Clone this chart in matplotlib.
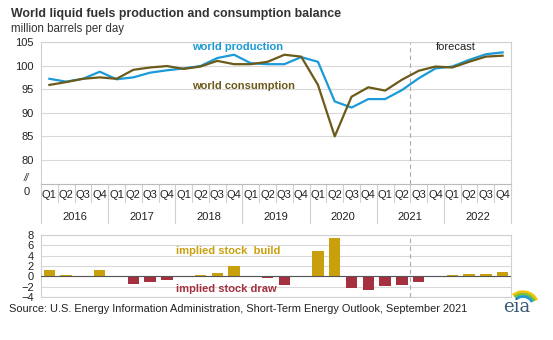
import matplotlib
matplotlib.use("Agg")
import matplotlib.pyplot as plt
from matplotlib.patches import Arc
import matplotlib.transforms as mtransforms

plt.rcParams["font.family"] = ["Liberation Sans", "DejaVu Sans"]

years = ["2016", "2017", "2018", "2019", "2020", "2021", "2022"]
quarters = ["Q1", "Q2", "Q3", "Q4"]

# world liquid fuels, million barrels per day, 2016Q1 .. 2022Q4
production = [97.2, 96.6, 97.2, 98.7, 97.1, 97.5, 98.5, 99.0,
              99.4, 99.9, 101.6, 102.3, 100.5, 100.3, 100.3, 101.8,
              100.8, 92.4, 91.1, 92.9, 92.9, 94.8, 97.3, 99.4,
              99.8, 101.2, 102.4, 102.8]
consumption = [95.9, 96.5, 97.2, 97.5, 97.2, 99.1, 99.6, 99.9,
               99.3, 99.8, 101.0, 100.3, 100.3, 100.8, 102.3, 101.9,
               95.9, 85.0, 93.4, 95.4, 94.7, 97.0, 98.9, 99.8,
               99.6, 100.8, 101.9, 102.1]
# implied stock change (build > 0, draw < 0)
stock_change = [1.3, 0.25, -0.05, 1.2, -0.1, -1.5, -1.0, -0.8,
                0.0, 0.25, 0.65, 2.05, -0.05, -0.3, -1.75, 0.05,
                4.95, 7.4, -2.25, -2.6, -1.8, -1.6, -1.1, -0.2,
                0.2, 0.45, 0.45, 0.75]
forecast_start = 22

blue = "#1a9ad6"
brown = "#6b5a1a"
gold = "#c9a00c"
red = "#a5303f"
grid = "#d9d9d9"
frame = "#d0d0d0"
ink = "#222222"
fs = 8

n = len(production)
x = list(range(n))

fig = plt.figure(figsize=(5.53, 3.40), dpi=100)
W, H = 553, 340

def box(left, top, right, bottom):
    return [left / W, 1 - bottom / H, (right - left) / W, (bottom - top) / H]

# ---- top panel: production and consumption ----
ax = fig.add_axes(box(41, 42, 511, 184))
ax.set_xlim(-0.5, n - 0.5)
ax.set_ylim(74.9, 105)
ax.set_yticks([80, 85, 90, 95, 100, 105])
ax.yaxis.grid(True, color=grid, lw=0.8)
ax.set_axisbelow(True)
ax.set_xticks([])
ax.tick_params(axis="y", length=0, labelsize=fs, pad=5, labelcolor=ink)
for s in ax.spines.values():
    s.set_color(frame)
    s.set_linewidth(0.8)
ax.spines["bottom"].set_color("#bbbbbb")

ax.plot(x, production, color=blue, lw=1.6, zorder=3)
ax.plot(x, consumption, color=brown, lw=1.6, zorder=4)
ax.axvline(forecast_start - 0.5, color="#aaaaaa", lw=0.8, ls=(0, (4, 3)))

ax.text(8.5, 103.9, "world production", color=blue, fontsize=fs,
        fontweight="bold", va="center")
ax.text(8.5, 95.6, "world consumption", color=brown, fontsize=fs,
        fontweight="bold", va="center")
ax.text(23.0, 103.9, "forecast", color=ink, fontsize=fs, va="center")

# broken axis marker and zero label
ax.text(-0.025, 6 / 142, "//", transform=ax.transAxes, ha="right", va="center",
        fontsize=7, style="italic", color=ink)
ax.text(-0.025, -8 / 142, "0", transform=ax.transAxes, ha="right", va="center",
        fontsize=fs, color=ink)

# category axis: quarters and years
trans = mtransforms.blended_transform_factory(ax.transData, ax.transAxes)
qh = 18 / 142
yh = 39 / 142
for i in range(n):
    ax.text(i, -11.5 / 142, quarters[i % 4], transform=trans, ha="center",
            va="center", fontsize=fs, color=ink)
for b in range(n + 1):
    depth = yh if b % 4 == 0 else qh
    ax.plot([b - 0.5, b - 0.5], [0, -depth], transform=trans, color=frame,
            lw=0.8, clip_on=False)
for k, yr in enumerate(years):
    ax.text(4 * k + 1.5, -33 / 142, yr, transform=trans, ha="center",
            va="center", fontsize=fs, color=ink)

# ---- bottom panel: implied stock change ----
bx = fig.add_axes(box(41, 235, 511, 297))
bx.set_xlim(-0.5, n - 0.5)
bx.set_ylim(-4, 8)
bx.set_yticks([8, 6, 4, 2, 0, -2, -4])
bx.yaxis.grid(True, color=grid, lw=0.8)
bx.set_axisbelow(True)
bx.set_xticks([])
bx.tick_params(axis="y", length=0, labelsize=fs, pad=5, labelcolor=ink)
for s in bx.spines.values():
    s.set_color(frame)
    s.set_linewidth(0.8)
colors = [gold if v >= 0 else red for v in stock_change]
bx.bar(x, stock_change, width=0.68, color=colors, zorder=3)
bx.axhline(0, color="#555555", lw=0.8, zorder=4)
bx.axvline(forecast_start - 0.5, color="#aaaaaa", lw=0.8, ls=(0, (4, 3)))
bx.text(7.55, 4.9, "implied stock  build", color=gold, fontsize=fs,
        fontweight="bold", va="center")
bx.text(7.55, -2.45, "implied stock draw", color=red, fontsize=fs,
        fontweight="bold", va="center")

# ---- titles and source ----
fig.text(11 / W, 1 - 14 / H, "World liquid fuels production and consumption balance",
         fontsize=8.9, fontweight="bold", color="#333333", va="center")
fig.text(11 / W, 1 - 29 / H, "million barrels per day", fontsize=8.3,
         color="#333333", va="center")
fig.text(9 / W, 1 - 308.5 / H,
         "Source: U.S. Energy Information Administration, Short-Term Energy Outlook, September 2021",
         fontsize=7.9, color=ink, va="center")

# eia logo
fig.text(517 / W, 1 - 307 / H, "eia", fontsize=13, family="DejaVu Serif",
         color="#3b5a75", ha="center", va="center")
for w, c in [(30, "#f2c500"), (25, "#7cbf3a"), (20, "#1f9ad6")]:
    arc = Arc((523 / W, 1 - 306 / H), w / W, w * 0.95 / H, theta1=35, theta2=120,
              transform=fig.transFigure, color=c, lw=2.0)
    fig.add_artist(arc)

fig.savefig("out.png", dpi=100)
plt.close(fig)
